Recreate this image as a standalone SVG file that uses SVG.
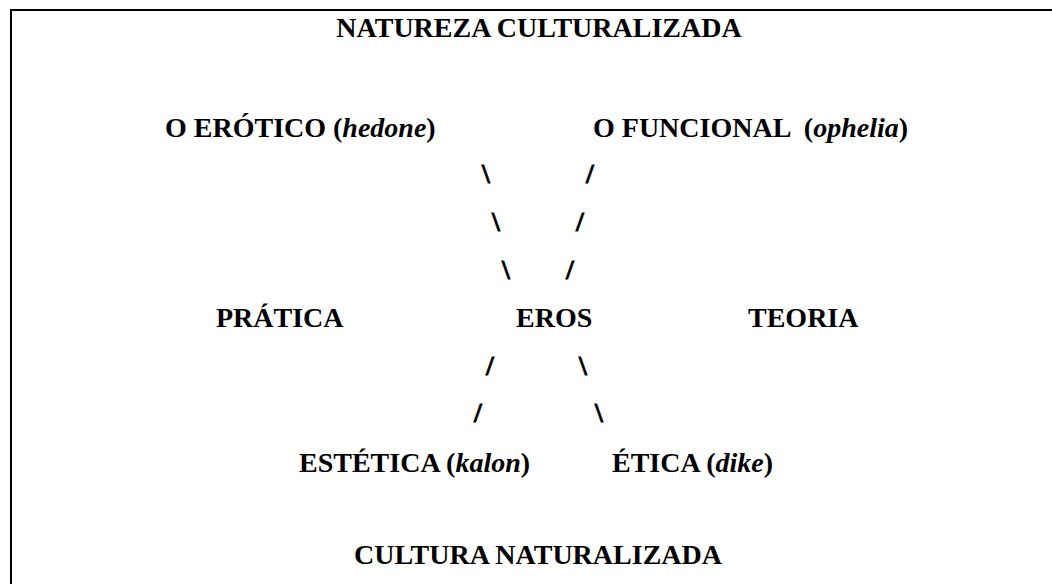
<svg xmlns="http://www.w3.org/2000/svg" width="1052" height="584" viewBox="0 0 1052 584">
<style>
text{font-family:"Liberation Serif","Times New Roman",serif;font-weight:bold;font-size:28px;fill:#000}
.c{text-anchor:middle}
.i{font-style:italic}
.s{stroke:#000;stroke-width:0.8}
.frame{fill:none;stroke:#000;stroke-width:2}
</style>
<rect width="1052" height="584" fill="#fff"/>
<path class="frame" d="M11,584 V10 H1052"/>
<g id="title"><text class="c" x="539" y="37">NATUREZA CULTURALIZADA</text></g>
<g id="erotico"><text x="165" y="137">O ERÓTICO (<tspan class="i">hedone</tspan>)</text></g>
<g id="funcional"><text x="593" y="137" xml:space="preserve">O FUNCIONAL  (<tspan class="i">ophelia</tspan>)</text></g>
<g id="pratica"><text x="216" y="327">PRÁTICA</text></g>
<g id="eros"><text x="516" y="327">EROS</text></g>
<g id="teoria"><text x="748" y="327">TEORIA</text></g>
<g id="estetica"><text x="299" y="472">ESTÉTICA (<tspan class="i">kalon</tspan>)</text></g>
<g id="etica"><text x="612" y="472">ÉTICA (<tspan class="i">dike</tspan>)</text></g>
<g id="bottom"><text class="c" x="538" y="564">CULTURA NATURALIZADA</text></g>
<g id="connectors">
<text class="c s" x="486" y="183">\</text><text class="c s" x="590" y="183">/</text>
<text class="c s" x="496" y="231">\</text><text class="c s" x="580" y="231">/</text>
<text class="c s" x="506" y="279">\</text><text class="c s" x="570" y="279">/</text>
<text class="c s" x="490" y="375">/</text><text class="c s" x="583" y="375">\</text>
<text class="c s" x="478" y="422">/</text><text class="c s" x="599" y="422">\</text>
</g>
</svg>
